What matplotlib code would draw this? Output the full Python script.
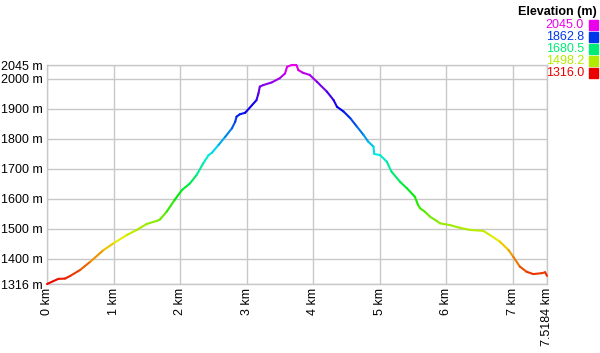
import colorsys
import numpy as np
import matplotlib
matplotlib.use("Agg")
import matplotlib.pyplot as plt
from matplotlib.collections import LineCollection
from matplotlib.colors import ListedColormap, Normalize

# elevation profile
dist_km = [0.0, 0.17, 0.27, 0.35, 0.50, 0.65, 0.85, 1.01, 1.20, 1.35, 1.50, 1.65,
           1.70, 1.80, 1.92, 2.03, 2.15, 2.25, 2.35, 2.43, 2.48, 2.58, 2.68, 2.78,
           2.83, 2.85, 2.90, 2.98, 3.15, 3.18, 3.20, 3.25, 3.38, 3.50, 3.58, 3.61,
           3.68, 3.75, 3.78, 3.85, 3.95, 4.06, 4.21, 4.31, 4.36, 4.46, 4.56, 4.66,
           4.76, 4.83, 4.91, 4.92, 5.01, 5.11, 5.18, 5.31, 5.41, 5.53, 5.58, 5.61,
           5.68, 5.76, 5.86, 5.91, 6.06, 6.21, 6.36, 6.56, 6.66, 6.81, 6.94, 7.01,
           7.11, 7.21, 7.31, 7.44, 7.49, 7.5184]
elev_m = [1316, 1333, 1334, 1343, 1363, 1390, 1429, 1453, 1479, 1496, 1516, 1526,
          1531, 1557, 1596, 1629, 1651, 1679, 1718, 1745, 1753, 1779, 1806, 1834,
          1856, 1873, 1881, 1886, 1928, 1951, 1973, 1978, 1987, 2001, 2017, 2039,
          2045, 2045, 2028, 2019, 2012, 1989, 1956, 1928, 1906, 1890, 1868, 1840,
          1812, 1790, 1773, 1749, 1745, 1723, 1690, 1656, 1635, 1607, 1579, 1568,
          1557, 1540, 1526, 1518, 1512, 1503, 1496, 1493, 1479, 1457, 1429, 1407,
          1374, 1357, 1349, 1352, 1355, 1343]

y_ticks = [1316, 1400, 1500, 1600, 1700, 1800, 1900, 2000, 2045]
x_ticks = [0, 1, 2, 3, 4, 5, 6, 7, 7.5184]
legend_vals = [2045.0, 1862.8, 1680.5, 1498.2, 1316.0]

FAM = ['Liberation Sans', 'DejaVu Sans']

# red -> magenta hue ramp
hues = np.linspace(0, 300 / 360, 256)
cmap = ListedColormap([colorsys.hsv_to_rgb(h, 1.0, 0.92) for h in hues])
norm = Normalize(1316, 2045)

fig = plt.figure(figsize=(6, 3.53), dpi=100)
ax = fig.add_axes([47 / 600, 69 / 353, 500 / 600, 219 / 353])

x = np.array(dist_km)
y = np.array(elev_m)
pts = np.column_stack([x, y]).reshape(-1, 1, 2)
segs = np.concatenate([pts[:-1], pts[1:]], axis=1)
lc = LineCollection(segs, cmap=cmap, norm=norm, linewidth=1.5, capstyle='round',
                    clip_on=False, zorder=3)
lc.set_array((y[:-1] + y[1:]) / 2)
ax.add_collection(lc)

ax.set_xlim(0, 7.5184)
ax.set_ylim(1316, 2045)
ax.set_xticks(x_ticks)
ax.set_xticklabels([f"{v:g} km" for v in x_ticks], rotation=90, fontsize=9, family=FAM)
ax.set_yticks(y_ticks)
ax.set_yticklabels([f"{v} m" for v in y_ticks], fontsize=9, family=FAM)
ax.tick_params(length=0, pad=3)
ax.grid(True, color='#c8c8c8', linewidth=1)
for s in ax.spines.values():
    s.set_color('#c8c8c8')
    s.set_linewidth(1)
ax.set_axisbelow(True)

# colour legend in the top right corner
fig.text(597 / 600, 1 - 12 / 353, "Elevation (m)", ha='right', va='center',
         fontsize=9, fontweight='bold', family=FAM)
for i, v in enumerate(legend_vals):
    yy = 1 - (25 + i * 12) / 353
    c = cmap(norm(v))
    fig.text(584 / 600, yy, f"{v:.1f}", ha='right', va='center', color=c,
             fontsize=9, family=FAM)
    fig.patches.append(plt.Rectangle((589 / 600, yy - 5 / 353), 9 / 600, 10 / 353,
                                     transform=fig.transFigure, color=c, figure=fig))

fig.savefig("out.png", dpi=100)
